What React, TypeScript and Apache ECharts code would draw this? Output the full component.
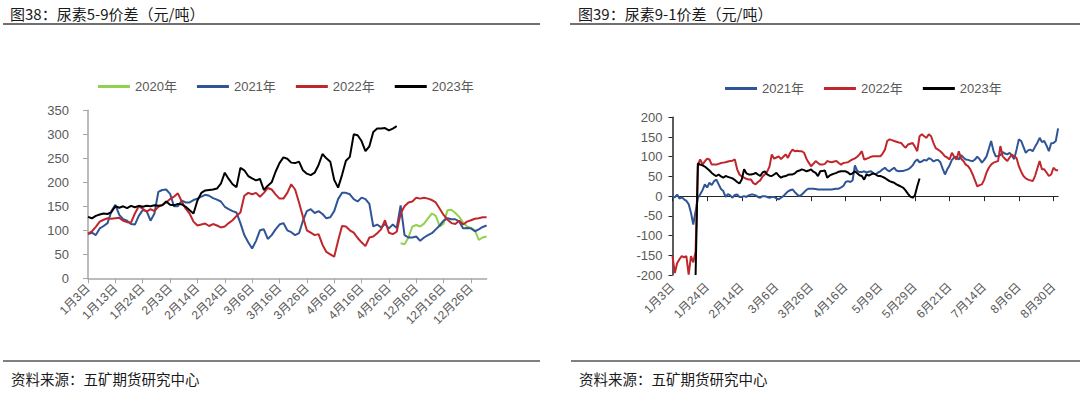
import React, { useEffect, useRef } from "react";
import * as echarts from "echarts";

// ---------- Left chart: 尿素5-9价差 ----------
const catsL = [
  "1月3日", "1月4日", "1月5日", "1月6日", "1月9日", "1月10日", "1月11日",
  "1月13日", "1月16日", "1月17日", "1月18日", "1月19日", "1月20日", "1月23日",
  "1月24日", "1月25日", "1月26日", "1月27日", "1月30日", "1月31日", "2月1日",
  "2月3日", "2月6日", "2月7日", "2月8日", "2月9日", "2月10日", "2月13日",
  "2月14日", "2月15日", "2月16日", "2月17日", "2月20日", "2月21日", "2月22日",
  "2月24日", "2月27日", "2月28日", "3月1日", "3月2日", "3月3日", "3月5日",
  "3月6日", "3月7日", "3月8日", "3月9日", "3月10日", "3月13日", "3月14日",
  "3月16日", "3月17日", "3月20日", "3月21日", "3月22日", "3月23日", "3月24日",
  "3月26日", "3月27日", "3月28日", "3月29日", "3月30日", "3月31日", "4月3日",
  "4月6日", "4月7日", "4月10日", "4月11日", "4月12日", "4月13日", "4月14日",
  "4月16日", "4月17日", "4月18日", "4月19日", "4月20日", "4月21日", "4月24日",
  "4月26日", "4月27日", "4月28日", "4月29日", "4月30日", "12月1日", "12月4日",
  "12月6日", "12月7日", "12月8日", "12月9日", "12月11日", "12月12日", "12月13日",
  "12月16日", "12月17日", "12月18日", "12月19日", "12月20日", "12月21日", "12月22日",
  "12月26日", "12月27日", "12月28日", "12月29日", "12月30日",
];

const l2020Start = 80;
const l2020 = [73, 71, 85, 108, 111, 108, 114, 125, 135, 130, 108, 114, 142, 143, 136, 128, 116, 108, 105, 100, 80, 85, 87];

const l2021 = [
  92, 95, 90, 104, 109, 115, 140, 153, 132, 123,
  120, 113, 112, 130, 142, 140, 120, 135, 180, 184,
  185, 176, 150, 150, 162, 158, 158, 163, 166, 170,
  174, 172, 167, 164, 160, 149, 144, 140, 137, 115,
  90, 75, 62, 78, 100, 102, 82, 90, 102, 112,
  115, 100, 96, 90, 94, 120, 140, 144, 136, 140,
  134, 125, 127, 140, 165, 178, 178, 175, 165, 160,
  168, 165, 155, 108, 112, 106, 113, 104, 112, 105,
  152, 90, 85, 85, 87, 78, 85, 90, 94, 102,
  110, 120, 125, 123, 123, 118, 104, 105, 104, 98,
  102, 107, 110,
];

const l2022 = [
  93, 98, 107, 118, 122, 125, 124, 125, 126, 120,
  117, 116, 135, 150, 145, 139, 144, 140, 149, 153,
  158, 165, 170, 177, 160, 145, 135, 118, 110, 112,
  114, 109, 113, 110, 106, 108, 115, 121, 130, 137,
  172, 178, 175, 178, 170, 178, 188, 185, 175, 166,
  166, 178, 196, 185, 158, 128, 100, 95, 90, 92,
  70, 55, 50, 45, 78, 109, 108, 100, 95, 84,
  75, 67, 85, 87, 94, 102, 121, 95, 92, 97,
  135, 150, 158, 160, 168, 166, 168, 166, 163, 158,
  145, 132, 122, 115, 113, 120, 112, 118, 121, 124,
  125, 127, 127,
];

const l2023 = [
  128, 125, 130, 133, 135, 134, 138, 150, 147, 150,
  146, 151, 148, 151, 149, 151, 150, 152, 151, 152,
  160, 153, 152, 155, 154, 149, 142, 135, 162, 178,
  183, 184, 185, 187, 197, 220, 207, 196, 190, 230,
  225, 213, 208, 204, 207, 184, 193, 200, 222, 240,
  252, 249, 241, 240, 243, 225, 218, 215, 220, 236,
  259, 250, 243, 205, 189, 215, 245, 253, 300, 298,
  286, 265, 275, 305, 312, 312, 313, 308, 312, 317,
];

// ---------- Right chart: 尿素9-1价差 ----------
const catsR = [
  "1月3日",
  "1月4日", "1月5日", "1月6日", "1月9日", "1月10日", "1月11日", "1月12日", "1月13日", "1月16日", "1月17日", "1月18日", "1月19日", "1月20日", "1月23日",
  "1月24日",
  "1月25日", "1月26日", "1月27日", "1月30日", "1月31日", "2月1日", "2月2日", "2月3日", "2月6日", "2月7日", "2月8日", "2月9日", "2月10日", "2月13日",
  "2月14日",
  "2月15日", "2月16日", "2月17日", "2月20日", "2月21日", "2月22日", "2月23日", "2月24日", "2月27日", "2月28日", "3月1日", "3月2日", "3月3日", "3月5日",
  "3月6日",
  "3月7日", "3月8日", "3月9日", "3月10日", "3月11日", "3月13日", "3月14日", "3月15日", "3月16日", "3月17日", "3月20日", "3月21日", "3月22日", "3月23日",
  "3月26日",
  "3月27日", "3月28日", "3月29日", "3月30日", "3月31日", "4月2日", "4月3日", "4月4日", "4月6日", "4月7日", "4月10日", "4月11日", "4月12日", "4月13日",
  "4月16日",
  "4月17日", "4月18日", "4月19日", "4月20日", "4月21日", "4月23日", "4月24日", "4月25日", "4月26日", "4月27日", "4月28日", "5月4日", "5月5日", "5月8日",
  "5月9日",
  "5月10日", "5月11日", "5月12日", "5月14日", "5月15日", "5月16日", "5月17日", "5月18日", "5月19日", "5月22日", "5月23日", "5月24日", "5月25日", "5月26日",
  "5月29日",
  "5月30日", "5月31日", "6月1日", "6月2日", "6月5日", "6月6日", "6月7日", "6月8日", "6月9日", "6月12日", "6月13日", "6月14日", "6月15日", "6月16日",
  "6月21日",
  "6月25日", "6月26日", "6月27日", "6月28日", "6月29日", "6月30日", "7月3日", "7月4日", "7月5日", "7月6日", "7月7日", "7月10日", "7月11日", "7月12日",
  "7月14日",
  "7月17日", "7月18日", "7月19日", "7月20日", "7月21日", "7月24日", "7月25日", "7月26日", "7月27日", "7月28日", "7月31日", "8月1日", "8月2日", "8月3日",
  "8月6日",
  "8月7日", "8月8日", "8月9日", "8月10日", "8月11日", "8月14日", "8月15日", "8月16日", "8月17日", "8月18日", "8月21日", "8月22日", "8月23日", "8月24日",
  "8月30日",
  "8月31日", "9月1日",
];

const r2021 = [
  0, -3, 4, -6, -3, -8, -12, -20, -42, -72,
  -38, -4, 5, 15, 30, 22, 34, 28, 38, 42,
  30, 18, 13, -2, 5, 2, -4, 3, 4, -2,
  -2, 0, -2, 2, 4, 4, 2, -2, -4, 0,
  0, -2, -4, -2, -2, -6, -8, -4, 0, 6,
  12, 15, 17, 10, 4, 0, 4, 10, 16, 19,
  19, 19, 18, 17, 17, 17, 17, 17, 17, 17,
  18, 19, 19, 22, 26, 36, 38, 36, 40, 78,
  64, 61, 61, 63, 60, 62, 63, 58, 55, 60,
  63, 68, 72, 66, 63, 68, 72, 65, 63, 64,
  64, 66, 68, 72, 78, 88, 93, 86, 88, 92,
  90, 96, 94, 88, 91, 92, 86, 70, 55, 68,
  78, 92, 98, 100, 93, 104, 98, 93, 92, 90,
  89, 93, 100, 94, 85, 92, 101, 120, 140, 115,
  101, 101, 104, 112, 108, 106, 110, 102, 94, 118,
  144, 140, 125, 110, 116, 118, 114, 125, 135, 148,
  137, 140, 128, 114, 134, 135, 140, 172,
];

const r2022 = [
  -152, -195, -170, -160, -152, -155, -152, -199, -152, -168,
  -140, 80, 93, 80, 88, 95, 93, 80, 80, 80,
  82, 84, 85, 86, 88, 89, 90, 93, 68, 55,
  50, 47, 44, 42, 42, 33, 30, 36, 40, 50,
  55, 62, 75, 106, 95, 98, 101, 94, 100, 106,
  97, 110, 118, 114, 115, 114, 114, 110, 95, 85,
  76, 82, 89, 84, 80, 80, 82, 89, 87, 86,
  88, 89, 84, 80, 84, 85, 86, 90, 93, 96,
  100, 106, 114, 93, 95, 97, 100, 101, 101, 101,
  101, 108, 118, 140, 144, 142, 140, 138, 136, 135,
  128, 123, 131, 133, 135, 125, 114, 152, 157, 152,
  148, 157, 152, 135, 122, 118, 114, 108, 101, 98,
  93, 110, 100, 93, 114, 95, 89, 80, 76, 68,
  55, 40, 25, 28, 30, 42, 60, 72, 80, 85,
  87, 89, 127, 101, 95, 89, 98, 106, 100, 97,
  76, 62, 51, 45, 42, 40, 38, 51, 70, 89,
  68, 68, 60, 51, 55, 72, 66, 66,
];

const r2023Start = 10;
const r2023 = [
  -200, 83, 80, 78, 75, 70, 65, 59, 54, 51,
  55, 50, 47, 51, 49, 47, 45, 41, 36, 32,
  42, 68, 58, 55, 55, 56, 59, 55, 51, 60,
  63, 55, 52, 51, 55, 59, 52, 47, 50, 51,
  54, 55, 55, 58, 63, 65, 68, 66, 63, 65,
  68, 62, 59, 51, 63, 64, 65, 47, 52, 55,
  57, 59, 62, 63, 63, 63, 60, 55, 58, 63,
  58, 53, 51, 42, 55, 52, 55, 58, 55, 51,
  51, 49, 46, 42, 38, 36, 34, 30, 27, 24,
  21, 14, 6, -1, -4, 2, 25, 45,
];

const yTicksL = { min: 0, max: 350, interval: 50 };
const yTicksR = { min: -200, max: 200, interval: 50 };

const COLORS = { y2020: "#92D050", y2021: "#2F5597", y2022: "#C0272D", y2023: "#000000" };

export default function App() {
  const ref = useRef<HTMLDivElement>(null);

  useEffect(() => {
    const chart = echarts.init(ref.current as HTMLDivElement, null, { renderer: "svg" });
    const latin = "'Liberation Sans', Arial, 'Noto Sans CJK SC', sans-serif";
    const cjk = "'Noto Sans CJK SC', 'Liberation Sans', sans-serif";
    const labelColor = "#595959";
    const withOffset = (arr: number[], start: number) => arr.map((v, i) => [start + i, v]);
    const plain = (arr: number[]) => arr.map((v, i) => [i, v]);

    const line = (name: string, color: string, data: any, xi: number, yi: number) => ({
      name,
      type: "line",
      xAxisIndex: xi,
      yAxisIndex: yi,
      data,
      symbol: "none",
      smooth: false,
      lineStyle: { color, width: 2 },
      itemStyle: { color },
      emphasis: { disabled: true },
    });

    const legendCommon = {
      icon: "rect",
      itemWidth: 32,
      itemHeight: 3,
      itemGap: 20,
      textStyle: { color: labelColor, fontSize: 13, fontFamily: latin },
      selectedMode: false,
    };

    const option: any = {
      animation: false,
      backgroundColor: "#ffffff",
      legend: [
        { ...legendCommon, left: 93, top: 75, data: ["2020年", "2021年", "2022年", "2023年"] },
        { ...legendCommon, left: 720, top: 77, data: ["2021年", "2022年", "2023年"] },
      ],
      grid: [
        { left: 88, top: 110.3, width: 398.6, height: 168, containLabel: false },
        { left: 672.5, top: 117.3, width: 385.6, height: 157.7, containLabel: false },
      ],
      xAxis: [
        {
          type: "category",
          gridIndex: 0,
          data: catsL,
          boundaryGap: false,
          axisLine: { show: true, lineStyle: { color: "#A6A6A6", width: 1.5 } },
          axisTick: { show: true, interval: 6, length: 5, lineStyle: { color: "#A6A6A6" } },
          axisLabel: { interval: 6, rotate: 45, fontSize: 12, color: labelColor, fontFamily: latin, margin: 8 },
          splitLine: { show: false },
        },
        {
          type: "category",
          gridIndex: 1,
          data: catsR,
          boundaryGap: false,
          axisLine: { show: true, onZero: true, lineStyle: { color: "#262626", width: 1.2 } },
          axisTick: { show: true, interval: 14, length: 5, lineStyle: { color: "#262626" } },
          axisLabel: { show: false },
          splitLine: { show: false },
        },
        {
          type: "category",
          gridIndex: 1,
          data: catsR,
          boundaryGap: false,
          position: "bottom",
          axisLine: { show: false, onZero: false },
          axisTick: { show: false },
          axisLabel: { interval: 14, rotate: 45, fontSize: 12, color: labelColor, fontFamily: latin, margin: 10 },
          splitLine: { show: false },
        },
      ],
      yAxis: [
        {
          type: "value",
          gridIndex: 0,
          ...yTicksL,
          axisLine: { show: true, lineStyle: { color: "#A6A6A6", width: 1.5 } },
          axisTick: { show: true, length: 5, lineStyle: { color: "#A6A6A6" } },
          axisLabel: { fontSize: 13, color: labelColor, fontFamily: latin, margin: 19 },
          splitLine: { show: false },
        },
        {
          type: "value",
          gridIndex: 1,
          ...yTicksR,
          axisLine: { show: true, lineStyle: { color: "#262626", width: 1.5 } },
          axisTick: { show: true, length: 4, lineStyle: { color: "#262626" } },
          axisLabel: { fontSize: 13, color: labelColor, fontFamily: latin, margin: 10 },
          splitLine: { show: false },
        },
      ],
      series: [
        line("2020年", COLORS.y2020, withOffset(l2020, l2020Start), 0, 0),
        line("2021年", COLORS.y2021, plain(l2021), 0, 0),
        line("2022年", COLORS.y2022, plain(l2022), 0, 0),
        line("2023年", COLORS.y2023, plain(l2023), 0, 0),
        line("2021年", COLORS.y2021, plain(r2021), 1, 1),
        line("2022年", COLORS.y2022, plain(r2022), 1, 1),
        line("2023年", COLORS.y2023, withOffset(r2023, r2023Start), 1, 1),
      ],
      graphic: [
        { type: "text", x: 10, y: 13, style: { text: "图38：尿素5-9价差（元/吨）", fontSize: 15, fontFamily: cjk, fill: "#1a1a1a", verticalAlign: "middle" } },
        { type: "line", shape: { x1: 3, y1: 24, x2: 540, y2: 24 }, style: { stroke: "#404040", lineWidth: 1.5 } },
        { type: "text", x: 578, y: 13, style: { text: "图39：尿素9-1价差（元/吨）", fontSize: 15, fontFamily: cjk, fill: "#1a1a1a", verticalAlign: "middle" } },
        { type: "line", shape: { x1: 570, y1: 24, x2: 1080, y2: 24 }, style: { stroke: "#404040", lineWidth: 1.5 } },
        { type: "line", shape: { x1: 3, y1: 361, x2: 540, y2: 361 }, style: { stroke: "#808080", lineWidth: 2 } },
        { type: "line", shape: { x1: 571, y1: 361, x2: 1080, y2: 361 }, style: { stroke: "#808080", lineWidth: 2 } },
        { type: "text", x: 11, y: 378, style: { text: "资料来源：五矿期货研究中心", fontSize: 14.5, fontFamily: cjk, fill: "#1a1a1a", verticalAlign: "middle" } },
        { type: "text", x: 579, y: 378, style: { text: "资料来源：五矿期货研究中心", fontSize: 14.5, fontFamily: cjk, fill: "#1a1a1a", verticalAlign: "middle" } },
      ],
    };

    chart.setOption(option);
    return () => chart.dispose();
  }, []);

  return (
    <div
      ref={ref}
      style={{ position: "absolute", left: 0, top: 0, width: 1080, height: 393, background: "#ffffff" }}
    />
  );
}
